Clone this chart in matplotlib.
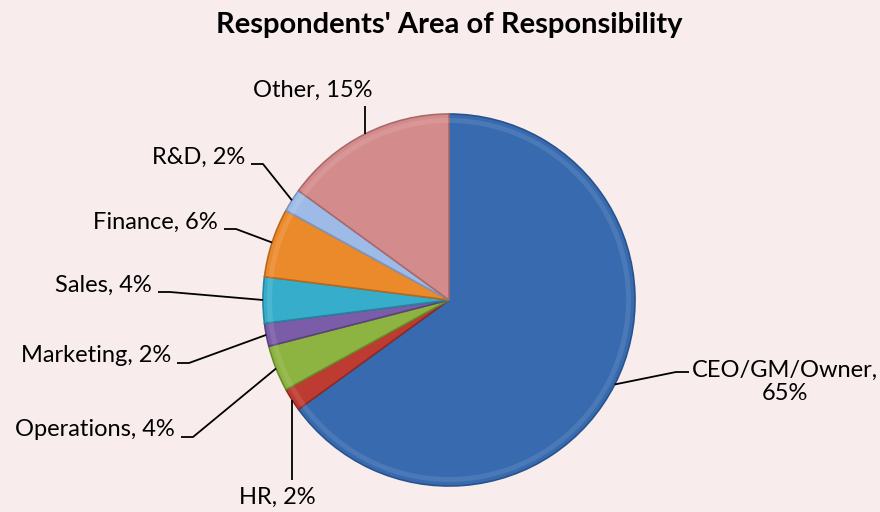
import numpy as np, matplotlib.pyplot as plt
from matplotlib.patches import Wedge

# survey breakdown, clockwise from 12 o'clock
labels = ["CEO/GM/Owner", "HR", "Operations", "Marketing", "Sales", "Finance", "R&D", "Other"]
shares = [65, 2, 4, 2, 4, 6, 2, 15]

BG = "#F8ECEC"
COLORS = ["#376AAF", "#BE3B32", "#8DB340", "#7A5CA8", "#36AECB", "#EB8A2B", "#9EBAE6", "#D48B8B"]
EDGES = ["#28528C", "#8E2A24", "#6A8A2C", "#5A4282", "#23869E", "#B8681C", "#7C97C4", "#A86A6A"]

# where each label sits (text anchor x, y) and its text alignment
LABEL_POS = {
    "CEO/GM/Owner": (785, 382, "center"),
    "HR":           (277, 497, "center"),
    "Operations":   (175, 430, "right"),
    "Marketing":    (171, 356, "right"),
    "Sales":        (152, 285, "right"),
    "Finance":      (218, 222, "right"),
    "R&D":          (245, 157, "right"),
    "Other":        (313, 90,  "center"),
}

plt.rcParams["font.family"] = ["Lato", "DejaVu Sans"]
fig = plt.figure(figsize=(8.8, 5.12), dpi=100)
fig.patch.set_facecolor(BG)
ax = fig.add_axes([0, 0, 1, 1]); ax.set_facecolor(BG)
F = lambda y: 512 - y

CX, CY, R = 449, 300, 186
wedges, _ = ax.pie(shares, colors=COLORS, startangle=90, counterclock=False,
                   center=(CX, F(CY)), radius=R, frame=True,
                   wedgeprops=dict(linewidth=1.2))
for w, ec in zip(wedges, EDGES):
    w.set_edgecolor(ec)
    # faint rim highlight just inside the outer arc
    ax.add_patch(Wedge(w.center, w.r - 4, w.theta1, w.theta2, width=5,
                       fc=(1, 1, 1, 0.10), ec="none", zorder=w.get_zorder() + 0.1))
ax.set_xlim(0, 880); ax.set_ylim(0, 512); ax.axis("off")

# leader lines + labels
cum = np.cumsum([0] + shares[:-1])
total = sum(shares)
for lab, s, c0 in zip(labels, shares, cum):
    mid = (c0 + s / 2) / total * 2 * np.pi
    ex, ey = CX + R * np.sin(mid), CY - R * np.cos(mid)
    tx, ty, ha = LABEL_POS[lab]
    if lab == "CEO/GM/Owner":
        txt = f"{lab},\n{s}%"
        pts = [(ex, ey), (676, 372), (689, 372)]
    elif lab == "HR":
        txt = f"{lab}, {s}%"
        pts = [(ex, ey), (ex, 480)]
    elif lab == "Other":
        txt = f"{lab}, {s}%"
        pts = [(ex, ey), (ex, 106)]
    else:
        txt = f"{lab}, {s}%"
        pts = [(ex, ey), (tx + 18, ty + 7), (tx + 6, ty + 7)]
    xs, ys = zip(*pts)
    ax.plot(xs, [F(y) for y in ys], color="black", lw=1.3, zorder=1,
            solid_capstyle="butt")
    ax.text(tx, F(ty), txt, fontsize=17, ha=ha, va="center",
            color="black", linespacing=1.1)

fig.text(449 / 880, 1 - 25 / 512, "Respondents' Area of Responsibility",
         ha="center", va="center", fontsize=21, weight="bold")

fig.savefig("out.png", facecolor=BG)
